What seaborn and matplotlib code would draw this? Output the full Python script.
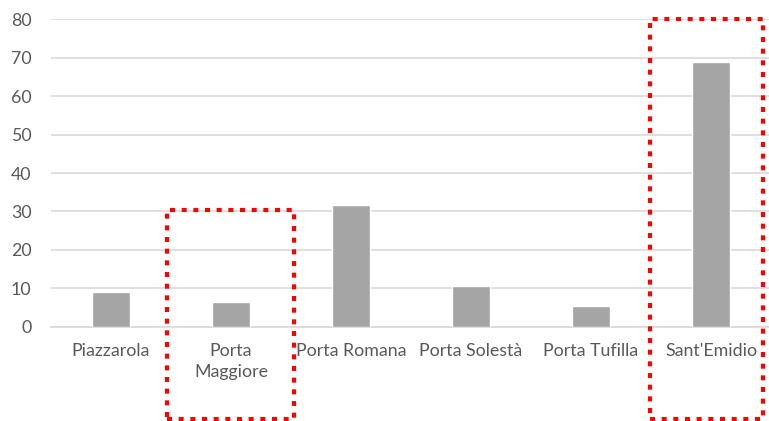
import numpy as np
import pandas as pd
import matplotlib
matplotlib.use("Agg")
import matplotlib.pyplot as plt
import seaborn as sns
from matplotlib.patches import Rectangle

quartieri = ["Piazzarola", "Porta\nMaggiore", "Porta Romana", "Porta Solestà", "Porta Tufilla", "Sant'Emidio"]
valori = [9.0, 6.3, 31.8, 10.7, 5.4, 69.0]
yticks = [0, 10, 20, 30, 40, 50, 60, 70, 80]

df = pd.DataFrame({"quartiere": quartieri, "valore": valori})

sns.set_style("white")
plt.rcParams["font.family"] = ["Lato", "DejaVu Sans"]

fig = plt.figure(figsize=(7.69, 4.21), dpi=100)
ax = fig.add_axes([0.0663, 0.224, 0.9363, 0.730])

sns.barplot(data=df, x="quartiere", y="valore", color="#A5A5A5", saturation=1,
            width=0.32, ax=ax, zorder=3)

ax.set_xlim(-0.5, 5.5)
ax.set_ylim(0, 80)
ax.set_yticks(yticks)
ax.yaxis.grid(True, color="#D9D9D9", linewidth=1.2, zorder=0)
ax.set_axisbelow(True)
for s in ["top", "right", "left"]:
    ax.spines[s].set_visible(False)
ax.spines["bottom"].set_color("#D9D9D9")
ax.spines["bottom"].set_linewidth(1.2)
ax.set_xlabel("")
ax.set_ylabel("")
ax.tick_params(axis="both", length=0, labelsize=12.8, labelcolor="#595959")
ax.tick_params(axis="x", pad=12)
ax.tick_params(axis="y", pad=14)
for lab in ax.get_xticklabels():
    lab.set_linespacing(1.35)

# riquadri rossi tratteggiati
for x0, x1, y1 in [(0.47, 1.525, 30.4), (4.49, 5.43, 80)]:
    r = Rectangle((x0, -23.9), x1 - x0, y1 + 23.9, fill=False, edgecolor="#FF0000",
                  linewidth=3.0, linestyle=(0, (1.2, 1.6)), clip_on=False, zorder=5)
    ax.add_patch(r)

fig.savefig("out.png", dpi=100)
